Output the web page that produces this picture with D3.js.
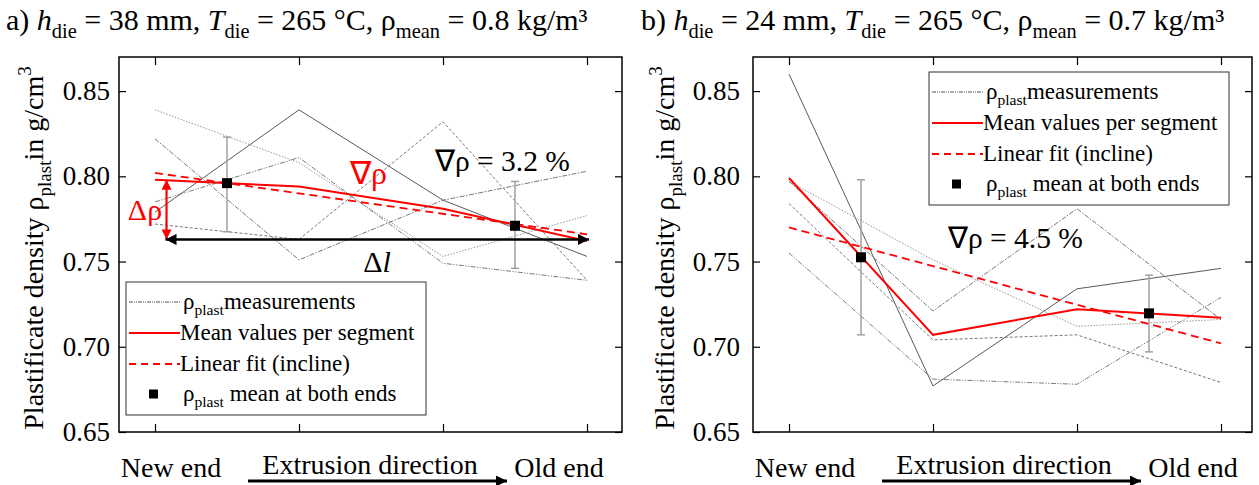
<!DOCTYPE html>
<html><head><meta charset="utf-8">
<script src="https://cdn.jsdelivr.net/npm/d3@7"></script>
</head><body style="margin:0">
<svg id="c" width="1259" height="485"></svg>
<script>
// ---------- data ----------
const positions = [0, 1, 2, 3];
const yTicks = [0.65, 0.70, 0.75, 0.80, 0.85];
const yDomain = [0.65, 0.87];
const endPos = [0.5, 2.5];

// panel a
const measA1 = [0.779, 0.839, 0.786, 0.753];
const measA2 = [0.839, 0.808, 0.753, 0.777];
const measA3 = [0.822, 0.751, 0.786, 0.803];
const measA4 = [0.772, 0.763, 0.832, 0.739];
const measA5 = [0.785, 0.811, 0.749, 0.739];
const meanA = [0.798, 0.794, 0.781, 0.762];
const fitA = [0.802, 0.766];
const endMeanA = [0.796, 0.771];
const endLowA = [0.7675, 0.746];
const endHighA = [0.823, 0.797];
const inclineA = "∇ρ = 3.2 %";

// panel b
const measB1 = [0.860, 0.677, 0.734, 0.746];
const measB2 = [0.797, 0.751, 0.712, 0.716];
const measB3 = [0.797, 0.721, 0.781, 0.716];
const measB4 = [0.784, 0.704, 0.707, 0.679];
const measB5 = [0.755, 0.681, 0.678, 0.729];
const meanB = [0.799, 0.707, 0.722, 0.717];
const fitB = [0.770, 0.702];
const endMeanB = [0.7525, 0.7196];
const endLowB = [0.707, 0.697];
const endHighB = [0.798, 0.742];
const inclineB = "∇ρ = 4.5 %";

// annotation values (panel a)
const deltaX = [0.08, 3.0];
const deltaLow = 0.763;

const titleA = [{t:"a) "},{t:"h",it:1},{t:"die",sub:1},{t:" = 38 mm, "},{t:"T",it:1},{t:"die",sub:1},{t:" = 265 °C, ρ"},{t:"mean",sub:1},{t:" = 0.8 kg/m³"}];
const titleB = [{t:"b) "},{t:"h",it:1},{t:"die",sub:1},{t:" = 24 mm, "},{t:"T",it:1},{t:"die",sub:1},{t:" = 265 °C, ρ"},{t:"mean",sub:1},{t:" = 0.7 kg/m³"}];
const yLabel = [{t:"Plastificate density ρ"},{t:"plast",sub:1},{t:"in g/cm"},{t:"3",sup:1}];
const legendLabels = [
  [{t:"ρ"},{t:"plast",sub:1},{t:"measurements"}],
  [{t:"Mean values per segment"}],
  [{t:"Linear fit (incline)"}],
  [{t:"ρ"},{t:"plast",sub:1},{t:" mean at both ends"}]
];
const xEndLabels = ["New end", "Old end"];
const xMidLabel = "Extrusion direction";

// ---------- drawing ----------
const FONT = "Liberation Serif";
const svg = d3.select("#c");
const RED = "#ff0000";
const defs = svg.append("defs");
function mk(id, color, w, h) {
  defs.append("marker").attr("id", id).attr("viewBox", "0 0 10 10")
    .attr("refX", 10).attr("refY", 5).attr("markerUnits", "userSpaceOnUse")
    .attr("markerWidth", w).attr("markerHeight", h).attr("orient", "auto-start-reverse")
    .append("path").attr("d", "M0,0 L10,5 L0,10 Z").attr("fill", color);
}
mk("arRed", RED, 12, 10);
mk("arBlk", "#000", 14, 11);
mk("arBlk2", "#000", 16, 11);

const marks = svg.append("g");
function txt(size) {
  return svg.append("text").attr("font-family", FONT).style("font-family", FONT).style("font-size", size + "px");
}

function rich(sel, segs, size) {
  let shift = 0;
  segs.forEach(s => {
    const target = s.sub ? 0.28 * size : s.sup ? -0.42 * size : 0;
    const ts = sel.append("tspan").text(s.t).attr("dy", target - shift);
    shift = target;
    if (s.sub || s.sup) ts.style("font-size", (size * 0.68).toFixed(1) + "px");
    if (s.it) ts.style("font-style", "italic");
  });
}

const measStyles = [
  {c:"#5a5a5a", d:null},
  {c:"#9a9a9a", d:"1.5,1.5"},
  {c:"#777", d:"5,1.5,1.5,1.5"},
  {c:"#777", d:"3,2"},
  {c:"#7a7a7a", d:"5,1.5,1.2,1.5,1.2,1.5"}
];

const legendTasks = [];

function panel(cfg) {
  const g = marks.append("g");
  const x = d3.scaleLinear().domain([0, 3]).range([cfg.x0, cfg.x3]);
  const y = d3.scaleLinear().domain(yDomain).range([cfg.bottom, cfg.top]);
  const L = cfg.x0 - 36, R = cfg.frameR;

  const line = d3.line().x((d, i) => x(positions[i])).y(d => y(d));
  cfg.meas.forEach((m, k) => {
    g.append("path").attr("d", line(m)).attr("fill", "none")
      .attr("stroke", measStyles[k].c).attr("stroke-width", 1)
      .attr("stroke-dasharray", measStyles[k].d);
  });

  endPos.forEach((p, i) => {
    const xx = x(p);
    g.append("line").attr("x1", xx).attr("x2", xx).attr("y1", y(cfg.low[i])).attr("y2", y(cfg.high[i]))
      .attr("stroke", "#a0a0a0").attr("stroke-width", 1.5);
    [cfg.low[i], cfg.high[i]].forEach(v => {
      g.append("line").attr("x1", xx - 4).attr("x2", xx + 4).attr("y1", y(v)).attr("y2", y(v))
        .attr("stroke", "#a0a0a0").attr("stroke-width", 1.5);
    });
  });

  g.append("path").attr("d", line(cfg.mean)).attr("fill", "none").attr("stroke", RED).attr("stroke-width", 2);
  g.append("line").attr("x1", x(0)).attr("x2", x(3)).attr("y1", y(cfg.fit[0])).attr("y2", y(cfg.fit[1]))
    .attr("stroke", RED).attr("stroke-width", 1.8).attr("stroke-dasharray", "8,5");

  endPos.forEach((p, i) => {
    g.append("rect").attr("x", x(p) - 5).attr("y", y(cfg.endMean[i]) - 5).attr("width", 10).attr("height", 10).attr("fill", "#000");
  });

  [[d3.axisLeft(y).tickValues(yTicks), `translate(${L},0)`, 7],
   [d3.axisRight(y).tickValues(yTicks), `translate(${R},0)`, 7],
   [d3.axisBottom(x).tickValues(positions), `translate(0,${cfg.bottom})`, 8],
   [d3.axisTop(x).tickValues(positions), `translate(0,${cfg.top})`, 8]].forEach(([ax, tr, len]) => {
    const a = g.append("g").attr("transform", tr).call(ax.tickSizeInner(-len).tickSizeOuter(0).tickFormat(""));
    a.attr("font-family", null);
    a.select(".domain").remove();
    a.selectAll("text").remove();
    a.selectAll("line").attr("stroke", "#000").attr("stroke-width", 1.2);
  });
  yTicks.forEach(v => {
    txt(27).attr("x", L - cfg.tickPad).attr("y", y(v)).attr("dy", "0.34em").attr("text-anchor", "end").text(d3.format(".2f")(v));
  });

  g.append("rect").attr("x", L).attr("y", cfg.top).attr("width", R - L).attr("height", cfg.bottom - cfg.top)
    .attr("fill", "none").attr("stroke", "#000").attr("stroke-width", 1.5);

  const yt = txt(28).attr("transform", `translate(${cfg.yLabX},248) rotate(-90)`).attr("text-anchor", "middle");
  rich(yt, yLabel, 28);

  const tt = txt(30).attr("x", cfg.titleX).attr("y", 30);
  rich(tt, cfg.title, 30);

  txt(28).attr("x", x(0) + 16).attr("y", 477).attr("text-anchor", "middle").text(xEndLabels[0]);
  txt(28).attr("x", x(3) - 28).attr("y", 477).attr("text-anchor", "middle").text(xEndLabels[1]);
  txt(28).attr("x", x(0) + 215).attr("y", 474).attr("text-anchor", "middle").text(xMidLabel);
  g.append("line").attr("x1", x(0) + 93).attr("x2", x(0) + 352).attr("y1", 481).attr("y2", 481)
    .attr("stroke", "#000").attr("stroke-width", 3).attr("marker-end", "url(#arBlk2)");

  txt(29.5).attr("x", cfg.incl[0]).attr("y", cfg.incl[1]).text(cfg.inclText);
  legendTasks.push(cfg.leg);
  return {g, x, y};
}

const pa = panel({x0:155, x3:587, frameR:622, top:57, bottom:432, tickPad:9, yLabX:43, titleX:6,
  meas:[measA1, measA2, measA3, measA4, measA5], mean:meanA, fit:fitA, endMean:endMeanA, low:endLowA, high:endHighA,
  leg:[126, 282], incl:[435, 171], inclText: inclineA, title: titleA});
const pb = panel({x0:789, x3:1221, frameR:1252, top:57, bottom:432, tickPad:13, yLabX:674, titleX:641,
  meas:[measB1, measB2, measB3, measB4, measB5], mean:meanB, fit:fitB, endMean:endMeanB, low:endLowB, high:endHighB,
  leg:[929, 72], incl:[948, 248], inclText: inclineB, title: titleB});

const ga = pa.g, xa = pa.x, ya = pa.y;
ga.append("line").attr("x1", xa(deltaX[0])).attr("x2", xa(deltaX[0])).attr("y1", ya(meanA[0])).attr("y2", ya(deltaLow))
  .attr("stroke", RED).attr("stroke-width", 2.2).attr("marker-start", "url(#arRed)").attr("marker-end", "url(#arRed)");
ga.append("line").attr("x1", xa(deltaX[0]) - 1).attr("x2", xa(deltaX[1]) + 2).attr("y1", ya(deltaLow)).attr("y2", ya(deltaLow))
  .attr("stroke", "#000").attr("stroke-width", 2.5).attr("marker-start", "url(#arBlk)").attr("marker-end", "url(#arBlk)");
txt(30).attr("x", 145).attr("y", 220).attr("text-anchor", "middle").attr("fill", RED).text("Δρ");
txt(32).attr("x", 350).attr("y", 184).attr("fill", RED).text("∇ρ");
const dl = txt(30).attr("x", 377).attr("y", 272).attr("text-anchor", "middle");
dl.append("tspan").text("Δ");
dl.append("tspan").style("font-style", "italic").text("l");

const rows = [20, 51, 82, 112];
const tx = [57, 54, 54, 57];
legendTasks.forEach(([lx, ly]) => {
  const lg = svg.append("g").attr("transform", `translate(${lx},${ly})`);
  lg.append("rect").attr("width", 300).attr("height", 133).attr("fill", "#fff").attr("stroke", "#333").attr("stroke-width", 1);
  lg.append("line").attr("x1", 3).attr("x2", 54).attr("y1", rows[0]).attr("y2", rows[0])
    .attr("stroke", "#555").attr("stroke-width", 1).attr("stroke-dasharray", "4,1,1,1,1,1");
  lg.append("line").attr("x1", 3).attr("x2", 54).attr("y1", rows[1]).attr("y2", rows[1])
    .attr("stroke", RED).attr("stroke-width", 1.8);
  lg.append("line").attr("x1", 3).attr("x2", 54).attr("y1", rows[2]).attr("y2", rows[2])
    .attr("stroke", RED).attr("stroke-width", 1.8).attr("stroke-dasharray", "7,5");
  lg.append("rect").attr("x", 23).attr("y", rows[3] - 4.5).attr("width", 9).attr("height", 9).attr("fill", "#000");
  legendLabels.forEach((lab, i) => {
    const t = txt(23).attr("x", lx + tx[i]).attr("y", ly + rows[i] + 7);
    rich(t, lab, 23);
  });
});
</script>
</body></html>
